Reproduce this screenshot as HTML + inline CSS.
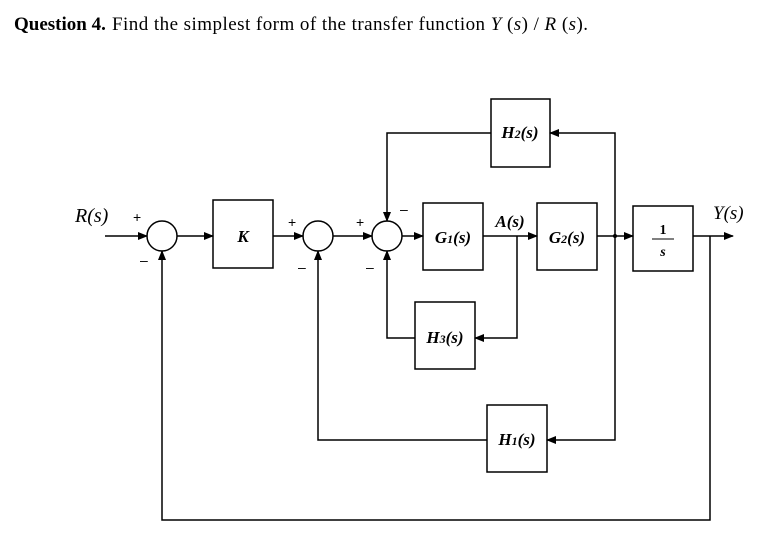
<!DOCTYPE html>
<html><head><meta charset="utf-8"><style>
body{margin:0;background:#fff;width:782px;height:547px;overflow:hidden}
svg{display:block}
.t{font-family:"Liberation Serif",serif;font-weight:bold;font-style:italic;font-size:17px}
</style></head><body>
<svg width="782" height="547" viewBox="0 0 782 547">
<defs><marker id="a" markerWidth="10" markerHeight="8" refX="9" refY="4" orient="auto" markerUnits="userSpaceOnUse"><path d="M0,0 L10,4 L0,8 z" fill="#000"/></marker></defs>
<text x="14" y="30" font-family="Liberation Serif,serif" font-size="19"><tspan font-weight="bold">Question 4.</tspan></text>
<text x="112" y="30" font-family="Liberation Serif,serif" font-size="19" textLength="476" lengthAdjust="spacing">Find the simplest form of the transfer function <tspan font-style="italic">Y</tspan> (<tspan font-style="italic">s</tspan>) / <tspan font-style="italic">R</tspan> (<tspan font-style="italic">s</tspan>).</text>
<g stroke="#000" stroke-width="1.5" fill="none">
<circle cx="162" cy="236" r="15"/><circle cx="318" cy="236" r="15"/><circle cx="387" cy="236" r="15"/>
<rect x="213" y="200" width="60" height="68"/>
<rect x="423" y="203" width="60" height="67"/>
<rect x="537" y="203" width="60" height="67"/>
<rect x="633" y="206" width="60" height="65"/>
<rect x="491" y="99" width="59" height="68"/>
<rect x="415" y="302" width="60" height="67"/>
<rect x="487" y="405" width="60" height="67"/>
<line x1="105" y1="236" x2="147" y2="236" marker-end="url(#a)"/>
<line x1="177" y1="236" x2="213" y2="236" marker-end="url(#a)"/>
<line x1="273" y1="236" x2="303" y2="236" marker-end="url(#a)"/>
<line x1="333" y1="236" x2="372" y2="236" marker-end="url(#a)"/>
<line x1="402" y1="236" x2="423" y2="236" marker-end="url(#a)"/>
<line x1="483" y1="236" x2="537" y2="236" marker-end="url(#a)"/>
<line x1="597" y1="236" x2="633" y2="236" marker-end="url(#a)"/>
<line x1="693" y1="236" x2="733" y2="236" marker-end="url(#a)"/>
<polyline points="615,236 615,133 550,133" marker-end="url(#a)"/>
<polyline points="491,133 387,133 387,221" marker-end="url(#a)"/>
<polyline points="517,236 517,338 475,338" marker-end="url(#a)"/>
<polyline points="415,338 387,338 387,251" marker-end="url(#a)"/>
<polyline points="615,236 615,440 547,440" marker-end="url(#a)"/>
<polyline points="487,440 318,440 318,251" marker-end="url(#a)"/>
<polyline points="710,236 710,520 162,520 162,251" marker-end="url(#a)"/>
<line x1="652" y1="239" x2="674" y2="239" stroke-width="1"/>
</g>
<circle cx="615" cy="236" r="2" fill="#000"/>
<text x="75" y="222" font-family="Liberation Serif,serif" font-style="italic" font-size="20">R(s)</text>
<text x="133" y="222" font-family="Liberation Sans,sans-serif" font-size="14">+</text>
<text x="140" y="265" font-family="Liberation Sans,sans-serif" font-size="14">–</text>
<text x="288" y="227" font-family="Liberation Sans,sans-serif" font-size="14">+</text>
<text x="298" y="272" font-family="Liberation Sans,sans-serif" font-size="14">–</text>
<text x="356" y="227" font-family="Liberation Sans,sans-serif" font-size="14">+</text>
<text x="366" y="272" font-family="Liberation Sans,sans-serif" font-size="14">–</text>
<text x="400" y="214" font-family="Liberation Sans,sans-serif" font-size="14">–</text>
<text x="243" y="242" class="t" font-style="normal" text-anchor="middle">K</text>
<text x="453" y="243" class="t" text-anchor="middle">G<tspan font-size="12">1</tspan>(s)</text>
<text x="567" y="243" class="t" text-anchor="middle">G<tspan font-size="12">2</tspan>(s)</text>
<text x="520" y="138" class="t" text-anchor="middle">H<tspan font-size="12">2</tspan>(s)</text>
<text x="445" y="343" class="t" text-anchor="middle">H<tspan font-size="12">3</tspan>(s)</text>
<text x="517" y="445" class="t" text-anchor="middle">H<tspan font-size="12">1</tspan>(s)</text>
<text x="510" y="227" class="t" text-anchor="middle">A(s)</text>
<text x="663" y="234" font-family="Liberation Serif,serif" font-weight="bold" font-size="14" text-anchor="middle">1</text>
<text x="663" y="256" font-family="Liberation Serif,serif" font-weight="bold" font-style="italic" font-size="14" text-anchor="middle">s</text>
<text x="713" y="219" font-family="Liberation Serif,serif" font-style="italic" font-size="19">Y(s)</text>
</svg>
</body></html>
